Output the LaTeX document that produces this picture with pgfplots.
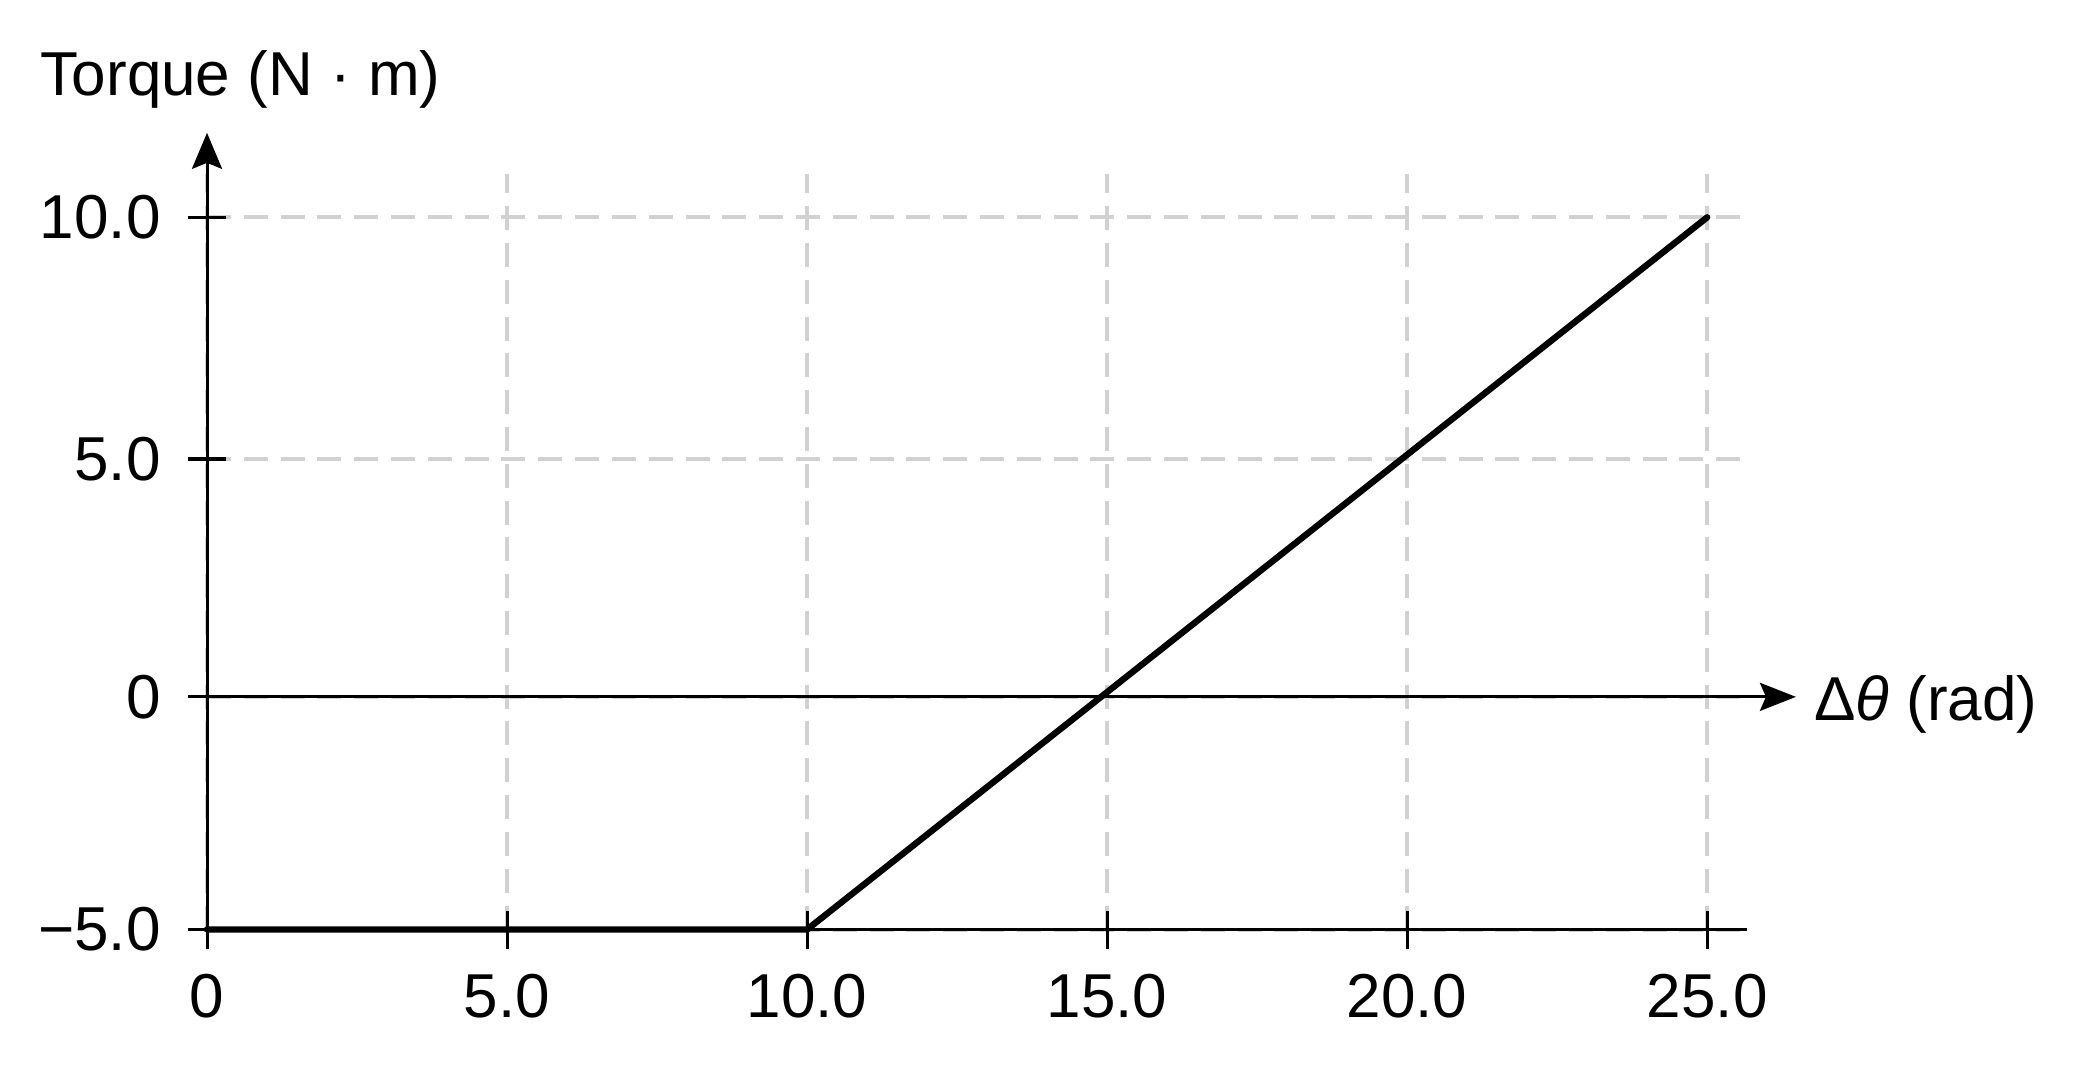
\documentclass[border=0pt]{standalone}
\usepackage{fontspec}
\setmainfont{Liberation Sans}
\usepackage{pgfplots}
\pgfplotsset{compat=1.18}
\usetikzlibrary{arrows.meta}
\begin{document}
\begin{tikzpicture}
\begin{axis}[
  scale only axis,
  width=385pt, height=188.8pt,
  xmin=0, xmax=25.67,
  ymin=-5, ymax=10.91,
  clip=false,
  axis x line*=bottom,
  axis y line*=left,
  axis line style={line width=0.75pt, black},
  xtick={0,5,10,15,20,25},
  xticklabels={0,5.0,10.0,15.0,20.0,25.0},
  ytick={-5,-0.1,4.91,10},
  yticklabels={−5.0,0,5.0,10.0},
  tick align=center,
  major tick length=9.5pt,
  every tick/.style={black, line width=0.75pt},
  tick label style={font=\fontsize{15.5}{18}\selectfont},
  xticklabel style={anchor=north, yshift=-3pt},
  yticklabel style={anchor=east, xshift=-3.3pt},
  grid=major,
  major grid style={color=black!18, line width=1pt, dash pattern=on 6pt off 3.2pt},
]
\addplot[black, line width=1.6pt, line cap=round, line join=round] coordinates {(0,-5) (10,-5) (25,10)};
\draw[line width=0.75pt, -{Stealth[length=9pt,width=7.5pt,inset=1.5pt]}] (axis cs:0,-5) -- (axis cs:0,11.78);
\draw[line width=0.75pt, -{Stealth[length=9pt,width=7pt,inset=1.5pt]}] (axis cs:0,-0.1) -- (axis cs:26.48,-0.1);
\node[anchor=base west, inner sep=0pt, font=\fontsize{15.5}{18}\selectfont] at (axis cs:-2.783,12.576) {Torque (N · m)};
\node[anchor=base west, inner sep=0pt, font=\fontsize{15.5}{18}\selectfont] at (axis cs:26.77,-0.6) {Δ\textit{θ} (rad)};
\coordinate (bl) at (axis cs:-3.45,-7.838);
\coordinate (tr) at (axis cs:31.28,14.578);
\end{axis}
\pgfresetboundingbox
\path[use as bounding box] (bl) rectangle (tr);
\end{tikzpicture}
\end{document}
